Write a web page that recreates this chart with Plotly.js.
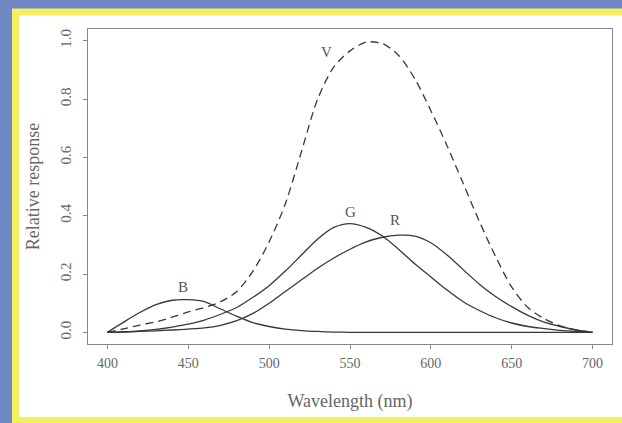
<!DOCTYPE html>
<html>
<head>
<meta charset="utf-8">
<script src="https://cdn.plot.ly/plotly-3.0.1.min.js"></script>
<style>html,body{margin:0;padding:0;background:#6f88c4;}#chart{width:622px;height:423px;}</style>
</head>
<body>
<div id="chart"></div>
<script>
const wavelength = [400,410,420,430,440,450,460,470,480,490,500,510,520,530,540,550,560,570,580,590,600,610,620,630,640,650,660,670,680,690,700];
const V = [0.0,0.012,0.025,0.036,0.052,0.07,0.085,0.105,0.14,0.21,0.31,0.44,0.62,0.80,0.91,0.965,0.995,0.99,0.95,0.87,0.76,0.64,0.51,0.38,0.26,0.155,0.085,0.047,0.022,0.008,0.0];
const G = [0.0,0.002,0.005,0.01,0.018,0.028,0.042,0.062,0.085,0.12,0.16,0.21,0.265,0.32,0.36,0.373,0.36,0.33,0.285,0.235,0.19,0.145,0.105,0.075,0.05,0.032,0.02,0.013,0.007,0.003,0.0];
const R = [0.0,0.001,0.003,0.005,0.008,0.011,0.015,0.024,0.04,0.065,0.1,0.14,0.18,0.22,0.255,0.285,0.31,0.326,0.333,0.33,0.307,0.265,0.215,0.165,0.123,0.088,0.058,0.035,0.02,0.008,0.0];
const B = [0.0,0.035,0.068,0.095,0.11,0.112,0.105,0.08,0.055,0.033,0.02,0.011,0.006,0.003,0.001,0,0,0,0,0,0,0,0,0,0,0,0,0,0,0,0];
const curveNames = ["V","G","R","B"];
const labelX = [535.6, 550, 578, 446.5];
const labelY = [0.962, 0.412, 0.385, 0.155];
const xTicks = [400,450,500,550,600,650,700];
const yTicks = [0.0,0.2,0.4,0.6,0.8,1.0];
const yTickText = ["0.0","0.2","0.4","0.6","0.8","1.0"];

const lineCol = '#383838';
const series = [V,G,R,B];
const traces = series.map((ys,i)=>({
  x: wavelength, y: ys, type:'scatter', mode:'lines', name: curveNames[i],
  line:{color: lineCol, width: 1.3, dash: i===0 ? '8px,5px' : 'solid', shape:'spline', smoothing:0.8},
  hoverinfo:'skip'
}));

const fontFam = '"Liberation Serif", "DejaVu Serif", serif';
const textCol = '#666666';

const px = v => (v-88)/524;
const py = v => (344-v)/315;

const layout = {
  width:622, height:423,
  margin:{l:88, r:10, t:29, b:79},
  paper_bgcolor:'#6f88c4',
  plot_bgcolor:'rgba(0,0,0,0)',
  showlegend:false,
  font:{family:fontFam, color:textCol, size:14},
  xaxis:{
    range:[388,712], tickvals:xTicks, ticktext:xTicks.map(String),
    showgrid:false, zeroline:false, showline:true, mirror:true,
    linecolor:'#888888', linewidth:1, ticks:'outside', ticklen:4, tickcolor:'#888888',
    ticklabelstandoff:2,
    tickfont:{family:fontFam, size:14, color:textCol},
    title:{text:'Wavelength (nm)', font:{family:fontFam, size:18, color:textCol}, standoff:24}
  },
  yaxis:{
    range:[-0.04,1.04], tickvals:yTicks, ticktext:yTickText,
    showgrid:false, zeroline:false, showline:true, mirror:true,
    linecolor:'#888888', linewidth:1, ticks:'outside', ticklen:4, tickcolor:'#888888',
    tickangle:-90, ticklabelstandoff:6,
    tickfont:{family:fontFam, size:15, color:textCol},
    title:{text:'Relative response', font:{family:fontFam, size:18, color:textCol}, standoff:13}
  },
  shapes:[
    {type:'rect', xref:'paper', yref:'paper', layer:'below',
     x0:px(15.5), x1:px(640), y0:py(12), y1:py(420.5),
     line:{color:'#f3ee62', width:7}, fillcolor:'#ffffff'}
  ],
  annotations: curveNames.map((n,i)=>({
    x: labelX[i], y: labelY[i], xref:'x', yref:'y', text:n, showarrow:false,
    font:{family:fontFam, size:15, color:'#555555'}
  }))
};

Plotly.newPlot('chart', traces, layout, {displayModeBar:false, staticPlot:true});
</script>
</body>
</html>
